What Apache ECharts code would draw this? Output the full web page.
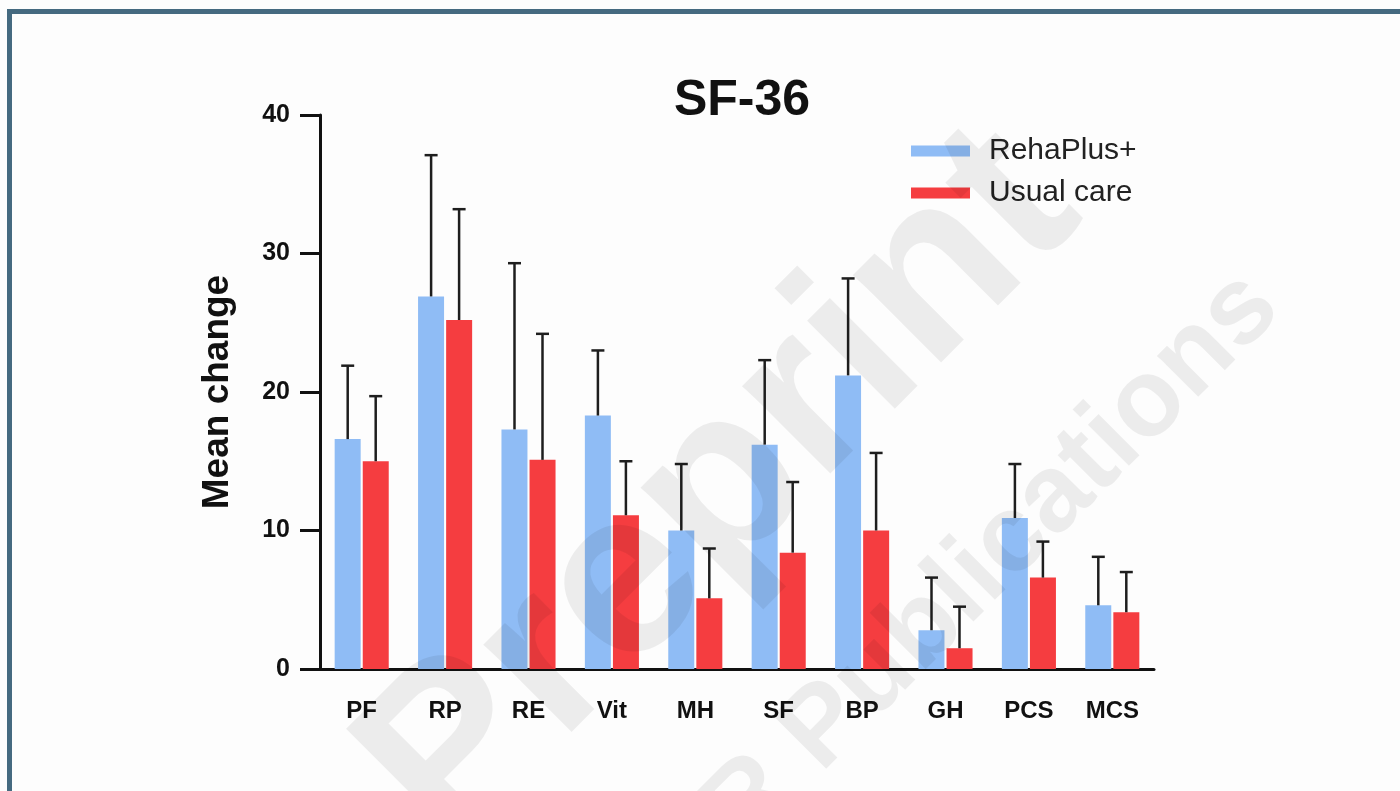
<!DOCTYPE html>
<html>
<head>
<meta charset="utf-8">
<style>
  html, body { margin: 0; padding: 0; background: #fdfdfd; }
  #chart { width: 1400px; height: 791px; }
</style>
<script src="https://cdn.jsdelivr.net/npm/echarts@6/dist/echarts.min.js"></script>
</head>
<body>
<div id="chart"></div>
<script>
// SF-36 mean change per domain, with upper SD bars
var categories = ['PF', 'RP', 'RE', 'Vit', 'MH', 'SF', 'BP', 'GH', 'PCS', 'MCS'];
var rehaMean   = [16.6, 26.9, 17.3, 18.3, 10.0, 16.2, 21.2, 2.8, 10.9, 4.6];
var rehaUpper  = [21.9, 37.1, 29.3, 23.0, 14.8, 22.3, 28.2, 6.6, 14.8, 8.1];
var usualMean  = [15.0, 25.2, 15.1, 11.1, 5.1, 8.4, 10.0, 1.5, 6.6, 4.1];
var usualUpper = [19.7, 33.2, 24.2, 15.0, 8.7, 13.5, 15.6, 4.5, 9.2, 7.0];
var yTicks = [0, 10, 20, 30, 40];

var FONT = 'Liberation Sans';
var BLUE = '#8fbcf5';
var RED = '#f53d40';

var myChart = echarts.init(document.getElementById('chart'));

// error bar (up only) drawn with a pixel offset from the category centre
function errorRender(offset) {
    return function (params, api) {
        var base = api.coord([api.value(0), api.value(1)]);
        var top = api.coord([api.value(0), api.value(2)]);
        var x = base[0] + offset;
        var style = { stroke: '#1e1e1e', lineWidth: 2.5 };
        return {
            type: 'group',
            children: [
                { type: 'line', shape: { x1: x, y1: base[1], x2: x, y2: top[1] }, style: style },
                { type: 'line', shape: { x1: x - 6.5, y1: top[1], x2: x + 6.5, y2: top[1] }, style: style }
            ]
        };
    };
}

function errData(mean, upper) {
    var out = [];
    for (var i = 0; i < categories.length; i++) {
        out.push([i, mean[i], upper[i]]);
    }
    return out;
}

var option = {
    backgroundColor: '#fdfdfd',
    animation: false,
    title: {
        text: 'SF-36',
        left: 737,
        textAlign: 'center',
        top: 71,
        textStyle: { fontFamily: FONT, fontWeight: 'bold', fontSize: 50, color: '#111' }
    },
    legend: {
        orient: 'vertical',
        left: 906,
        top: 131,
        itemWidth: 59,
        itemHeight: 11,
        itemGap: 12,
        icon: 'rect',
        data: ['RehaPlus+', 'Usual care'],
        textStyle: { fontFamily: FONT, fontSize: 30, color: '#222', padding: [0, 0, 0, 14], lineHeight: 30 }
    },
    grid: { left: 320, right: 246, top: 115, bottom: 122 },
    xAxis: {
        type: 'category',
        data: categories,
        axisLine: { lineStyle: { color: '#111', width: 3 } },
        axisTick: { alignWithLabel: true, length: 20, lineStyle: { color: '#111', width: 3 } },
        axisLabel: { margin: 30, fontFamily: FONT, fontWeight: 'bold', fontSize: 24, color: '#111' }
    },
    yAxis: {
        type: 'value',
        min: yTicks[0],
        max: yTicks[yTicks.length - 1],
        interval: 10,
        name: 'Mean change',
        nameLocation: 'middle',
        nameGap: 84,
        nameTextStyle: { fontFamily: FONT, fontWeight: 'bold', fontSize: 37, color: '#111' },
        splitLine: { show: false },
        axisLine: { show: true, lineStyle: { color: '#111', width: 3 } },
        axisTick: { show: true, length: 20, lineStyle: { color: '#111', width: 3 } },
        axisLabel: { margin: 30, fontFamily: FONT, fontWeight: 'bold', fontSize: 25, color: '#111' }
    },
    graphic: [
        { type: 'rect', shape: { x: 9.5, y: 11.5, width: 1400, height: 800 }, style: { fill: null, stroke: '#456a80', lineWidth: 5 }, z: 100 },
        { type: 'text', x: 722, y: 490, rotation: Math.PI / 4, z: 100,
          style: { text: 'Preprint', fontFamily: FONT, fontWeight: 'bold', fontSize: 235, fill: 'rgba(0,0,0,0.065)', align: 'center', verticalAlign: 'middle' } },
        { type: 'text', x: 1262, y: 290, rotation: Math.PI / 4, z: 100,
          style: { text: 'JMIR Publications', fontFamily: FONT, fontWeight: 'bold', fontSize: 110, fill: 'rgba(0,0,0,0.065)', align: 'right', verticalAlign: 'middle' } }
    ],
    series: [
        { name: 'RehaPlus+', type: 'bar', data: rehaMean, barWidth: 26, barGap: '8%', itemStyle: { color: BLUE } },
        { name: 'Usual care', type: 'bar', data: usualMean, barWidth: 26, itemStyle: { color: RED } },
        { type: 'custom', renderItem: errorRender(-14), data: errData(rehaMean, rehaUpper), z: 5 },
        { type: 'custom', renderItem: errorRender(14), data: errData(usualMean, usualUpper), z: 5 }
    ]
};

myChart.setOption(option);
</script>
</body>
</html>
